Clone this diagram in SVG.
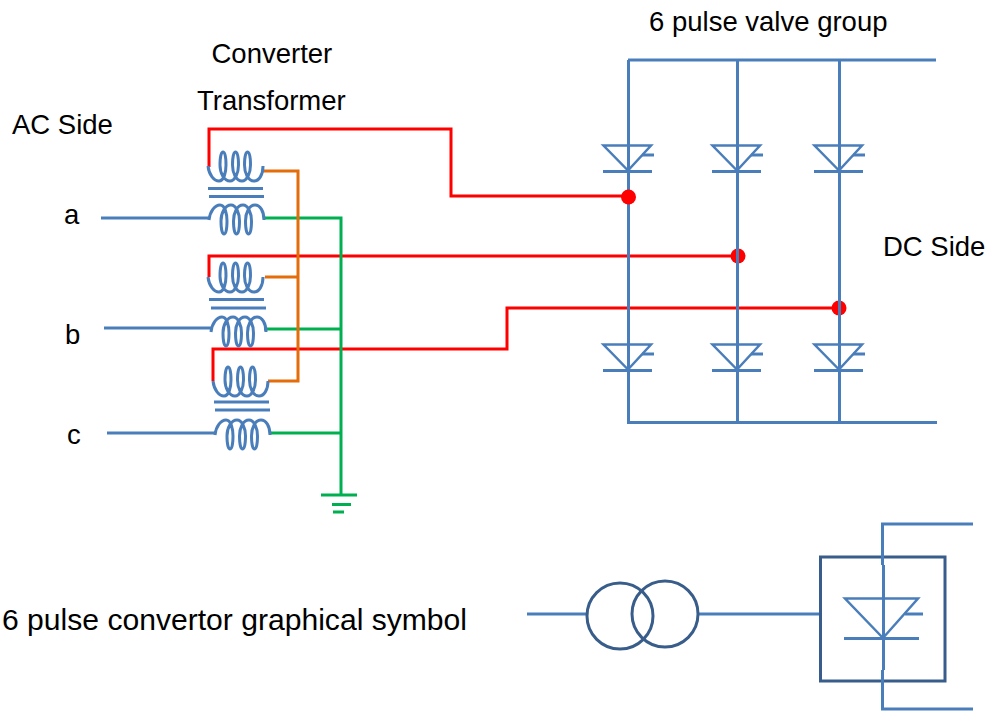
<svg xmlns="http://www.w3.org/2000/svg" xmlns:xlink="http://www.w3.org/1999/xlink" width="991" height="711" viewBox="0 0 991 711">
<style>
.t{font-family:"Liberation Sans",Arial,sans-serif;font-size:27.5px;fill:#000}
.big{font-size:30.1px}
.b{fill:none;stroke:#4A7EBB;stroke-width:3}
.thin{fill:none;stroke:#4A7EBB;stroke-width:2.500}
.r{fill:none;stroke:#FF0000;stroke-width:3}
.o{fill:none;stroke:#E46C0A;stroke-width:3}
.g{fill:none;stroke:#00B050;stroke-width:3}
.d{fill:none;stroke:#385D8A;stroke-width:3}
.dot{fill:#FF0000}
</style>
<defs>
<path id="coil" class="b" d="M0,-1C1,8 6,14 11,14C16,14 18,5 18,-2C18,-10 17,-15 15,-15C13,-15 12,-9 12,-2C12,6 16,14 22,14C27,14 30.500,6 30.500,-2C30.500,-10 29.500,-15 27.500,-15C25.500,-15 24.500,-9 24.500,-2C24.500,6 28,14 34,14C39,14 42.500,6 42.500,-2C42.500,-10 41.500,-15 39.500,-15C37.500,-15 36.500,-9 36.500,-2C36.500,6 40,14 46,14C51,14 55,8 55,-1"/>
<g id="diode">
<path class="thin" d="M-24.500,0.500H23L0,25.500Z"/>
<path class="b" d="M-25,26.500H24M14,10H26"/>
</g>
</defs>
<g id="connectors">
<path class="b" d="M101,218H208M104,328H211M107,433H215"/>
<path class="r" d="M209,167V129H451V196H628"/>
<path class="r" d="M209,277V256H738"/>
<path class="r" d="M213,381V349H507V308H839"/>
<path class="g" d="M265,218H341V494M264,329H341M269,433H341"/>
<path class="o" d="M263,171H298V381H268M265,277H298"/>
</g>
<g id="transformer-a">
<use xlink:href="#coil" href="#coil" x="208" y="167"/>
<path class="b" d="M208,188.500H263M209,196.500H264"/>
<use xlink:href="#coil" href="#coil" transform="translate(209,219) scale(1,-1)"/>
</g>
<g id="transformer-b">
<use xlink:href="#coil" href="#coil" x="208" y="278"/>
<path class="b" d="M209,299.500H264M211,308H266"/>
<use xlink:href="#coil" href="#coil" transform="translate(211,331) scale(1,-1)"/>
</g>
<g id="transformer-c">
<use xlink:href="#coil" href="#coil" x="213" y="382"/>
<path class="b" d="M214,402H269M215,410H270"/>
<use xlink:href="#coil" href="#coil" transform="translate(215,434) scale(1,-1)"/>
</g>
<g id="ground">
<path class="g" d="M321,495H357M332,504.500H351M333,512H344"/>
</g>
<g id="phase-dots-under">
<circle class="dot" cx="738" cy="256" r="7.500"/>
<circle class="dot" cx="839" cy="308" r="7.500"/>
</g>
<g id="valve-group">
<path class="b" d="M628,60H936M628,422.500H937M628.500,60V424M737.500,60V424M839.500,60V424"/>
<use xlink:href="#diode" href="#diode" x="628" y="145"/>
<use xlink:href="#diode" href="#diode" x="737" y="145"/>
<use xlink:href="#diode" href="#diode" x="839" y="145"/>
<use xlink:href="#diode" href="#diode" x="628" y="344"/>
<use xlink:href="#diode" href="#diode" x="737" y="344"/>
<use xlink:href="#diode" href="#diode" x="839" y="344"/>
</g>
<g id="phase-dot-top">
<circle class="dot" cx="628.500" cy="197" r="7.500"/>
</g>
<g id="symbol">
<path class="b" d="M527,614H586M699,614H820"/>
<circle class="d" cx="620" cy="616" r="33"/>
<circle class="d" cx="665" cy="614" r="33"/>
<rect class="d" x="820.500" y="557" width="124.500" height="124"/>
<path class="b" d="M973,524H882.500V565M883.500,565V670M882.500,670V709H973"/>
<path class="thin" d="M845,598.500H918L883,638Z"/>
<path class="b" d="M844,638.500H919M905,614H923"/>
</g>
<g id="labels">
<text class="t" x="211.500" y="62.500">Converter</text>
<text class="t" x="197" y="110">Transformer</text>
<text class="t" x="12" y="134">AC Side</text>
<text class="t" x="64" y="224">a</text>
<text class="t" x="65" y="344">b</text>
<text class="t" x="67" y="444">c</text>
<text class="t" x="649" y="31">6 pulse valve group</text>
<text class="t" x="883" y="256">DC Side</text>
<text class="t big" x="2" y="630">6 pulse convertor graphical symbol</text>
</g>
</svg>
